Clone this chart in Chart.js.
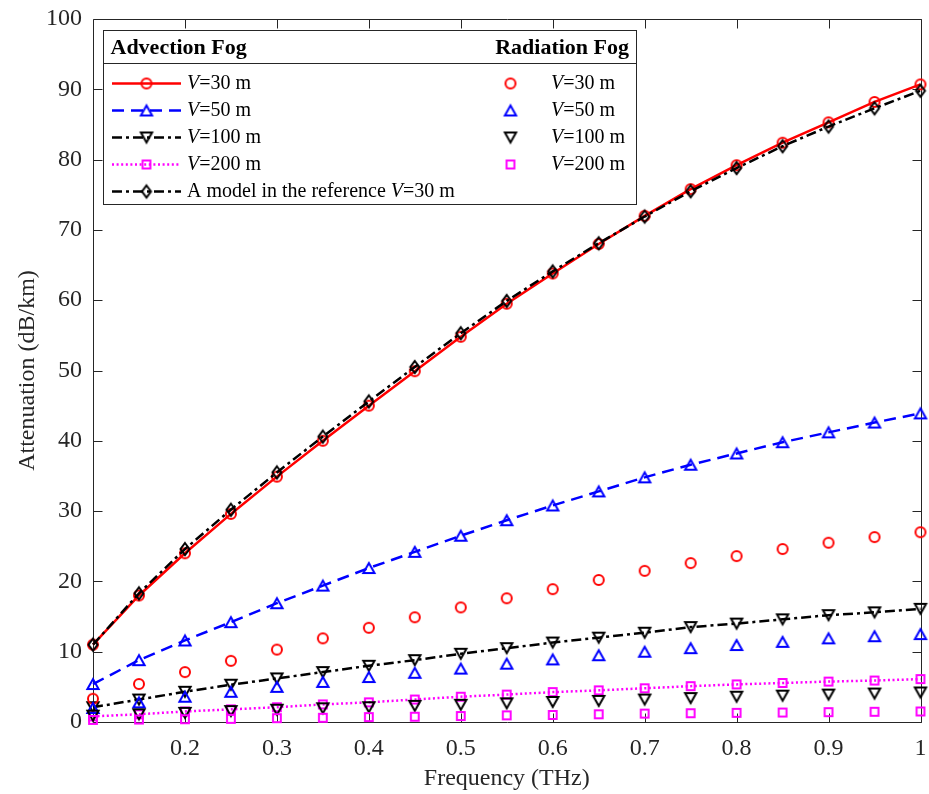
<!DOCTYPE html>
<html>
<head>
<meta charset="utf-8">
<script src="https://cdn.jsdelivr.net/npm/chart.js@4/dist/chart.umd.min.js"></script>
<style>
  html, body { margin: 0; padding: 0; background: #ffffff; }
  #wrap { width: 929px; height: 794px; }
</style>
</head>
<body>
<div id="wrap"><canvas id="chart" width="929" height="794"></canvas></div>
<script>
// Frequency grid (THz)
const freqs = [0.10, 0.15, 0.20, 0.25, 0.30, 0.35, 0.40, 0.45, 0.50, 0.55,
               0.60, 0.65, 0.70, 0.75, 0.80, 0.85, 0.90, 0.95, 1.00];

// Advection fog attenuation (dB/km) for each visibility
const adv30  = [11.0, 18.0, 24.0, 29.6, 34.9, 40.0, 45.0, 49.9, 54.8, 59.5,
                63.8, 68.0, 72.0, 75.8, 79.2, 82.4, 85.3, 88.2, 90.7];
const adv50  = [5.4, 8.8, 11.6, 14.2, 16.9, 19.4, 21.9, 24.2, 26.5, 28.7,
                30.8, 32.8, 34.8, 36.6, 38.2, 39.8, 41.2, 42.6, 43.9];
const adv100 = [2.1, 3.2, 4.3, 5.3, 6.2, 7.1, 8.0, 8.8, 9.7, 10.5,
                11.3, 12.0, 12.7, 13.5, 14.0, 14.6, 15.2, 15.6, 16.1];
const adv200 = [0.8, 1.1, 1.5, 1.8, 2.1, 2.5, 2.8, 3.2, 3.6, 3.9,
                4.25, 4.5, 4.8, 5.1, 5.35, 5.55, 5.75, 5.9, 6.1];

// Radiation fog attenuation (dB/km)
const rad30  = [3.3, 5.4, 7.1, 8.7, 10.3, 11.9, 13.4, 14.9, 16.3, 17.6,
                18.9, 20.2, 21.5, 22.6, 23.6, 24.6, 25.5, 26.3, 27.0];
const rad50  = [2.0, 2.8, 3.6, 4.3, 5.0, 5.7, 6.4, 7.0, 7.6, 8.3,
                8.9, 9.5, 10.0, 10.5, 10.95, 11.4, 11.9, 12.2, 12.5];
const rad100 = [0.9, 1.1, 1.3, 1.55, 1.75, 1.95, 2.1, 2.3, 2.45, 2.65,
                2.85, 3.0, 3.2, 3.4, 3.6, 3.75, 3.9, 4.05, 4.2];
const rad200 = [0.3, 0.35, 0.4, 0.45, 0.55, 0.6, 0.7, 0.75, 0.85, 0.95,
                1.0, 1.1, 1.2, 1.25, 1.3, 1.35, 1.4, 1.45, 1.5];

// Reference model, V = 30 m
const model30 = [11.0, 18.3, 24.6, 30.2, 35.5, 40.6, 45.6, 50.5, 55.3, 59.9,
                 64.1, 68.1, 71.9, 75.5, 78.8, 81.9, 84.7, 87.3, 89.8];

// Axis ticks
const xTickValues = [0.2, 0.3, 0.4, 0.5, 0.6, 0.7, 0.8, 0.9, 1.0];
const xTickLabels = ['0.2', '0.3', '0.4', '0.5', '0.6', '0.7', '0.8', '0.9', '1'];
const yTickValues = [0, 10, 20, 30, 40, 50, 60, 70, 80, 90, 100];

const SERIF = '"Liberation Serif", "Times New Roman", Times, serif';
const AXIS_COLOR = '#262626';

// Hollow marker sprites, centred on their bounding box
function makeMarker(shape, color) {
  const s = 22, m = s / 2;
  const c = document.createElement('canvas');
  c.width = s; c.height = s;
  const g = c.getContext('2d');
  g.strokeStyle = color;
  g.lineWidth = 2;
  g.lineJoin = 'miter';
  g.beginPath();
  if (shape === 'circle') {
    g.arc(m, m, 5.0, 0, Math.PI * 2);
  } else if (shape === 'up') {
    g.moveTo(m, m - 4.9); g.lineTo(m + 5.6, m + 4.9); g.lineTo(m - 5.6, m + 4.9); g.closePath();
  } else if (shape === 'down') {
    g.moveTo(m, m + 4.9); g.lineTo(m + 5.6, m - 4.9); g.lineTo(m - 5.6, m - 4.9); g.closePath();
  } else if (shape === 'square') {
    g.rect(m - 3.9, m - 3.9, 7.8, 7.8);
  } else if (shape === 'diamond') {
    g.moveTo(m, m - 6.0); g.lineTo(m + 4.5, m); g.lineTo(m, m + 6.0); g.lineTo(m - 4.5, m); g.closePath();
  }
  g.stroke();
  return c;
}

const DASHED  = [12, 7];
const DASHDOT = [10, 4, 3, 4];
const DOTTED  = [2, 2.6];

const advection = [
  { name: '30',  values: adv30,  color: '#ff0000', dash: [],      shape: 'circle' },
  { name: '50',  values: adv50,  color: '#0000ff', dash: DASHED,  shape: 'up' },
  { name: '100', values: adv100, color: '#000000', dash: DASHDOT, shape: 'down' },
  { name: '200', values: adv200, color: '#ff00ff', dash: DOTTED,  shape: 'square' }
];
const radiation = [
  { name: '30',  values: rad30,  color: '#ff0000', shape: 'circle' },
  { name: '50',  values: rad50,  color: '#0000ff', shape: 'up' },
  { name: '100', values: rad100, color: '#000000', shape: 'down' },
  { name: '200', values: rad200, color: '#ff00ff', shape: 'square' }
];
const modelSeries = { values: model30, color: '#000000', dash: DASHDOT, shape: 'diamond' };

const toPoints = vals => freqs.map((f, i) => ({ x: f, y: vals[i] }));

function lineDataset(s, label) {
  const sprite = makeMarker(s.shape, s.color);
  s.sprite = sprite;
  return {
    label,
    data: toPoints(s.values),
    borderColor: s.color,
    borderWidth: 2.5,
    borderDash: s.dash,
    pointStyle: sprite,
    pointRadius: 6,
    pointBackgroundColor: 'transparent',
    pointBorderColor: s.color,
    tension: 0,
    fill: false,
    clip: false
  };
}
function markerDataset(s, label) {
  const sprite = makeMarker(s.shape, s.color);
  s.sprite = sprite;
  return {
    label,
    data: toPoints(s.values),
    showLine: false,
    borderColor: s.color,
    pointStyle: sprite,
    pointRadius: 6,
    pointBackgroundColor: 'transparent',
    pointBorderColor: s.color,
    clip: false
  };
}

// First dataset is painted last (on top)
const datasets = [];
radiation.slice().reverse().forEach(s => datasets.push(markerDataset(s, 'Radiation Fog V=' + s.name + ' m')));
datasets.push(lineDataset(modelSeries, 'A model in the reference V=30 m'));
advection.slice().reverse().forEach(s => datasets.push(lineDataset(s, 'Advection Fog V=' + s.name + ' m')));

// Boxed axes with inward tick marks, plus the frequency tick labels
const framePlugin = {
  id: 'frame',
  beforeDatasetsDraw(chart) {
    const { ctx, chartArea: a, scales: { x, y } } = chart;
    const L = Math.round(a.left) + 0.5, R = Math.round(a.right) + 0.5;
    const T = Math.round(a.top) + 0.5, B = Math.round(a.bottom) + 0.5;
    const tl = 9;
    ctx.save();
    ctx.strokeStyle = AXIS_COLOR;
    ctx.lineWidth = 1;
    ctx.beginPath();
    ctx.rect(L, T, R - L, B - T);
    xTickValues.forEach(v => {
      const px = Math.round(x.getPixelForValue(v)) + 0.5;
      ctx.moveTo(px, B); ctx.lineTo(px, B - tl);
      ctx.moveTo(px, T); ctx.lineTo(px, T + tl);
    });
    yTickValues.forEach(v => {
      const py = Math.round(y.getPixelForValue(v)) + 0.5;
      ctx.moveTo(L, py); ctx.lineTo(L + tl, py);
      ctx.moveTo(R, py); ctx.lineTo(R - tl, py);
    });
    ctx.stroke();

    ctx.fillStyle = AXIS_COLOR;
    ctx.font = '24px ' + SERIF;
    ctx.textAlign = 'center';
    ctx.textBaseline = 'middle';
    xTickValues.forEach((v, i) => {
      ctx.fillText(xTickLabels[i], x.getPixelForValue(v), a.bottom + 27);
    });
    ctx.restore();
  }
};

// Two-column legend: advection curves on the left, radiation markers on the right
function drawRichText(ctx, parts, x, y, size) {
  let cx = x;
  parts.forEach(p => {
    ctx.font = (p.italic ? 'italic ' : '') + size + 'px ' + SERIF;
    ctx.fillText(p.t, cx, y);
    cx += ctx.measureText(p.t).width;
  });
}
const vLabel = n => [{ t: 'V', italic: true }, { t: '=' + n + ' m' }];

const legendPlugin = {
  id: 'fogLegend',
  afterDraw(chart) {
    const ctx = chart.ctx;
    const box = { x: 103.5, y: 30.5, w: 533, h: 174 };
    const rows = [83.5, 110.5, 137.5, 164.5, 191.5];
    ctx.save();
    ctx.fillStyle = '#ffffff';
    ctx.fillRect(box.x, box.y, box.w, box.h);
    ctx.strokeStyle = AXIS_COLOR;
    ctx.lineWidth = 1;
    ctx.strokeRect(box.x, box.y, box.w, box.h);
    ctx.beginPath();
    ctx.moveTo(box.x, 63.5); ctx.lineTo(box.x + box.w, 63.5);
    ctx.stroke();

    ctx.fillStyle = '#000000';
    ctx.textBaseline = 'middle';
    ctx.font = 'bold 22px ' + SERIF;
    ctx.textAlign = 'left';
    ctx.fillText('Advection Fog', 110.5, 48.5);
    ctx.textAlign = 'right';
    ctx.fillText('Radiation Fog', 629, 48.5);
    ctx.textAlign = 'left';

    const leftEntries = advection.map(s => ({ s, parts: vLabel(s.name) }));
    leftEntries.push({ s: modelSeries, parts: [{ t: 'A model in the reference ' }].concat(vLabel('30')) });

    leftEntries.forEach((e, i) => {
      const yy = rows[i];
      ctx.save();
      ctx.strokeStyle = e.s.color;
      ctx.lineWidth = 2.5;
      ctx.setLineDash(e.s.dash);
      ctx.beginPath();
      ctx.moveTo(112, yy); ctx.lineTo(181, yy);
      ctx.stroke();
      ctx.restore();
      ctx.drawImage(e.s.sprite, 146.5 - e.s.sprite.width / 2, yy - e.s.sprite.height / 2);
      ctx.fillStyle = '#000000';
      drawRichText(ctx, e.parts, 187, yy, 20);
    });

    radiation.forEach((s, i) => {
      const yy = rows[i];
      ctx.drawImage(s.sprite, 510.5 - s.sprite.width / 2, yy - s.sprite.height / 2);
      ctx.fillStyle = '#000000';
      drawRichText(ctx, vLabel(s.name), 551, yy, 20);
    });
    ctx.restore();
  }
};

const tickFont = { family: SERIF, size: 24 };

new Chart(document.getElementById('chart'), {
  type: 'line',
  data: { datasets },
  options: {
    responsive: false,
    animation: false,
    devicePixelRatio: 1,
    events: [],
    layout: { padding: { top: 19, right: 1, left: 0, bottom: 0 } },
    plugins: { legend: { display: false }, tooltip: { enabled: false } },
    scales: {
      x: {
        type: 'linear',
        min: 0.1,
        max: 1,
        grid: { display: false, drawTicks: false },
        border: { display: false },
        afterBuildTicks: s => { s.ticks = xTickValues.map(v => ({ value: v })); },
        ticks: { display: false },
        title: {
          display: true,
          text: 'Frequency (THz)',
          font: { family: SERIF, size: 24 },
          color: AXIS_COLOR,
          padding: { top: 0, bottom: 1 }
        },
        afterFit: s => { s.height = 72; s.paddingLeft = 0; s.paddingRight = 0; }
      },
      y: {
        type: 'linear',
        min: 0,
        max: 100,
        grid: { display: false, drawTicks: false },
        border: { display: false },
        afterBuildTicks: s => { s.ticks = yTickValues.map(v => ({ value: v })); },
        ticks: { font: tickFont, color: AXIS_COLOR, padding: 11 },
        title: {
          display: true,
          text: 'Attenuation (dB/km)',
          font: { family: SERIF, size: 24 },
          color: AXIS_COLOR,
          padding: { top: 13, bottom: 0 }
        },
        afterFit: s => { s.width = 93; s.paddingTop = 0; s.paddingBottom = 0; }
      }
    }
  },
  plugins: [framePlugin, legendPlugin]
});
</script>
</body>
</html>
